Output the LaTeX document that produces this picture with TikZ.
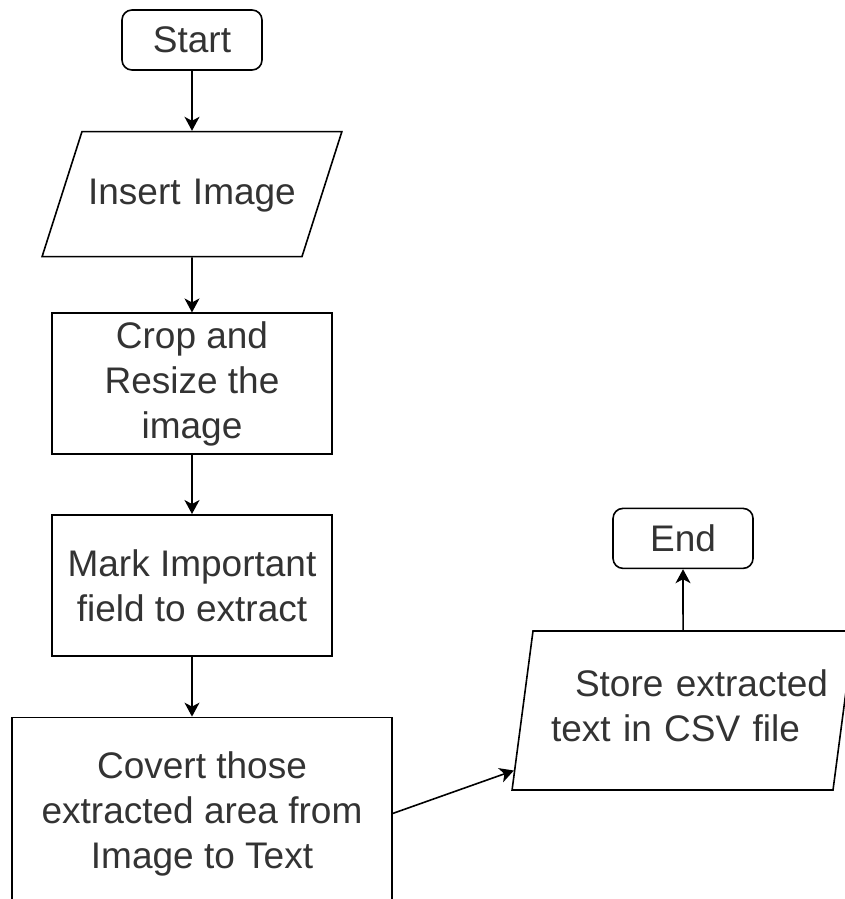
\documentclass[tikz,border=0pt]{standalone}
\usepackage{fontspec}
\setmainfont{Liberation Sans}
\usepackage{xcolor}
\usetikzlibrary{positioning, shapes.geometric, arrows.meta}
\definecolor{flowtextcolor}{gray}{0.2}

\tikzset{
    flowbox/.style={draw, line width=1.6pt, text=flowtextcolor, align=center,
        inner sep=0pt, font=\fontsize{37}{45}\selectfont},
    terminal/.style={flowbox, rounded corners=10pt, minimum width=140pt, minimum height=60pt},
    process/.style={flowbox, minimum width=280pt, minimum height=141pt},
    inout/.style={flowbox, trapezium, trapezium left angle=#1, trapezium right angle=180-#1},
    flowarrow/.style={line width=1.6pt, -{Stealth[length=14pt,width=15pt,inset=4pt]}}
}

\begin{document}
\begin{tikzpicture}[x=1pt, y=1pt]
    \useasboundingbox (0,0) rectangle (844,-899);
    \node [terminal] (start) at (192,-40) {Start};
    \node [inout=72.3, text width=220pt, text height=73pt, text depth=52pt,
        below=60pt of start] (insert) {Insert Image};
    \node [process, below=55pt of insert] (crop) {Crop and\\Resize the\\image};
    \node [process, below=59pt of crop] (mark) {Mark Important\\field to extract};
    \node [process, minimum width=380pt, minimum height=192pt,
        below=60pt of mark, xshift=10pt] (convert) {Covert those\\extracted area from\\Image to Text};
    \node [inout=82.5, text width=300pt, text height=65pt, text depth=94pt] (store) at (683,-710.5)
        {\hspace*{37pt}Store extracted\\text in CSV file\hspace*{15pt}\mbox{}};
    \node [terminal, above=61pt of store] (end) {End};

    \draw [flowarrow] (start) -- (insert);
    \draw [flowarrow] (insert) -- (crop);
    \draw [flowarrow] (crop) -- (mark);
    \draw [flowarrow] (mark.south) -- (mark.south |- convert.north);
    \draw [flowarrow] (convert.east) -- (store);
    \draw [flowarrow] (store) -- (end);
\end{tikzpicture}
\end{document}
